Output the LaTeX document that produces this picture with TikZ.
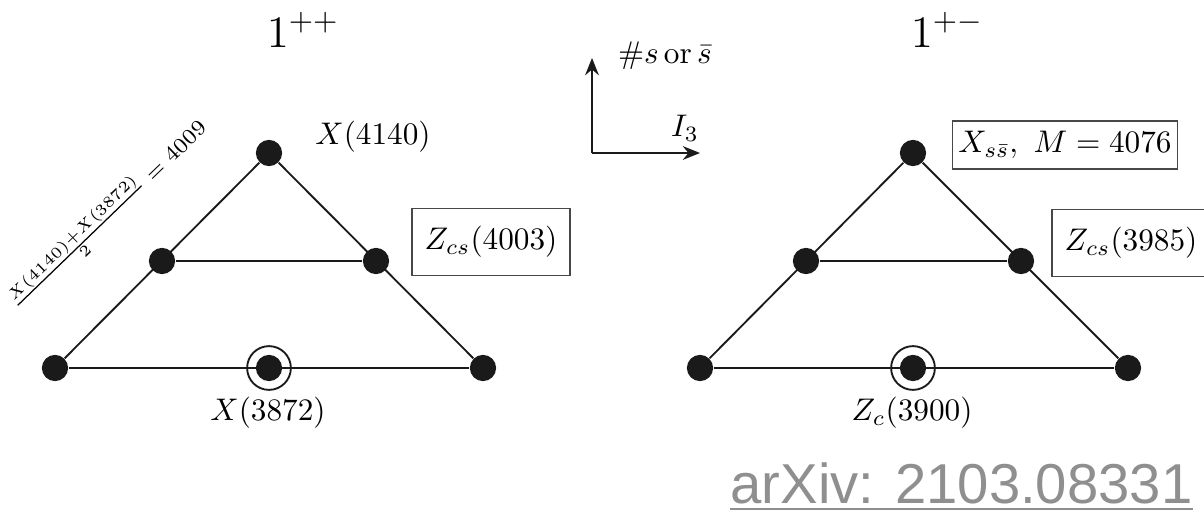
\documentclass[tikz,border=0pt]{standalone}
\usepackage{fontspec}
\newfontfamily\arxivfont{Liberation Sans}
\usetikzlibrary{arrows.meta}
\definecolor{diagink}{HTML}{1A1A1A}
\definecolor{arxivgray}{HTML}{8F8F8F}

\begin{document}
\begin{tikzpicture}[x=0.32pt,y=-0.32pt,
    dot/.style={circle,fill=diagink,inner sep=0pt,minimum size=8.4pt},
    ring/.style={circle,draw=diagink,line width=.6pt,inner sep=0pt,minimum size=14pt},
    edge/.style={draw=diagink,line width=.6pt},
    statebox/.style={draw=diagink!80,line width=.5pt,inner sep=0pt,
      minimum width=50.6pt,minimum height=21.4pt},
    axis/.style={draw=diagink,line width=.7pt,-{Stealth[length=5.5pt,width=4.4pt]}}]
  \clip (0,0) rectangle (1204,513);

  % left multiplet, 1^{++}
  \node[font=\Large] (jpcl) at (303,30) {$1^{++}$};
  \node[dot] (ltop) at (269,153) {};
  \node[dot] (lml) at (162,261) {};
  \node[dot] (lmr) at (376,261) {};
  \node[dot] (lbl) at (55,368) {};
  \node[dot] (lbr) at (483,368) {};
  \node[dot] (lbm) at (269,368) {};
  \node[ring] (lring) at (269,368) {};
  \draw[edge] (lbl) -- (ltop);
  \draw[edge] (ltop) -- (lbr);
  \draw[edge] (lml) -- (lmr);
  \draw[edge] (lbl) -- (lbr);

  \node (x4140) at (373,137) {$X(4140)$};
  \node[statebox] (zcsl) at (491,242) {$Z_{cs}(4003)$};
  \node (x3872) at (268,413) {$X(3872)$};
  \node[font=\scriptsize,rotate=44] (avg) at (108,215) {$\frac{X(4140)+X(3872)}{2}=4009$};

  % axes
  \coordinate (origin) at (592,153);
  \coordinate (sup) at (592,58);
  \coordinate (iright) at (700,153);
  \draw[axis] (origin) -- (sup);
  \draw[axis] (origin) -- (iright);
  \node[anchor=west] (slabel) at (607,56) {$\#s\,\mathrm{or}\,\bar{s}$};
  \node (ithree) at (685,128) {$I_3$};

  % right multiplet, 1^{+-}
  \node[font=\Large] (jpcr) at (947,30) {$1^{+-}$};
  \node[dot] (rtop) at (913,153) {};
  \node[dot] (rml) at (806,261) {};
  \node[dot] (rmr) at (1021,261) {};
  \node[dot] (rbl) at (700,368) {};
  \node[dot] (rbr) at (1128,368) {};
  \node[dot] (rbm) at (913,368) {};
  \node[ring] (rring) at (913,368) {};
  \draw[edge] (rbl) -- (rtop);
  \draw[edge] (rtop) -- (rbr);
  \draw[edge] (rml) -- (rmr);
  \draw[edge] (rbl) -- (rbr);

  \node[statebox,minimum width=72pt,minimum height=15.5pt] (xss) at (1065,145) {$X_{s\bar s},\ M=4076$};
  \node[statebox] (zcsr) at (1131,243) {$Z_{cs}(3985)$};
  \node (zc) at (912,413) {$Z_c(3900)$};

  % source
  \node[anchor=base west,inner sep=0pt,font=\arxivfont\fontsize{18}{20}\selectfont,
    text=arxivgray] (arxiv) at (730,503) {arXiv: 2103.08331};
  \draw[arxivgray,line width=.6pt] ([yshift=-1.9pt]arxiv.base west) -- ([yshift=-1.9pt]arxiv.base east);
\end{tikzpicture}
\end{document}
